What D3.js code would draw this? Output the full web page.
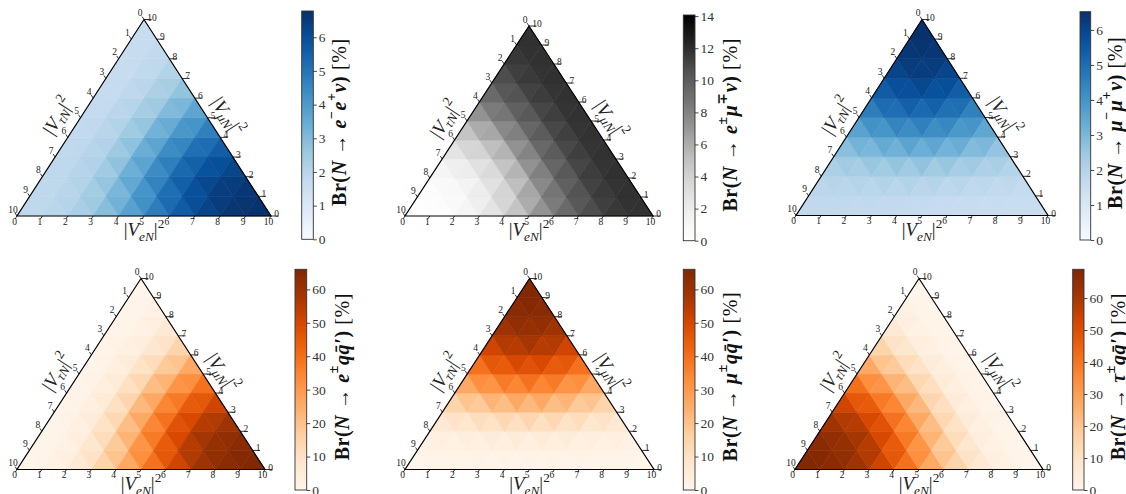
<!DOCTYPE html>
<html>
<head>
<meta charset="utf-8">
<script src="https://cdn.jsdelivr.net/npm/d3@7"></script>
<style>
  body { margin: 0; background: #fff; }
  svg { display: block; }
  text { font-family: "Liberation Serif", "DejaVu Serif", serif; }
</style>
</head>
<body>
<div id="chart"></div>
<script>
// Branching ratios [%] on the ternary lattice.
// Row index = |V_muN|^2 (0..10, bottom to top), entry index = |V_eN|^2 (0..10-row),
// |V_tauN|^2 = 10 - row - entry.
const brEENu = [
  [1.82, 1.88, 2.11, 2.59, 3.35, 4.30, 5.25, 6.01, 6.49, 6.72, 6.78],
  [1.82, 1.89, 2.18, 2.79, 3.70, 4.77, 5.70, 6.32, 6.63, 6.72],
  [1.81, 1.90, 2.25, 2.97, 4.00, 5.06, 5.86, 6.30, 6.48],
  [1.79, 1.88, 2.29, 3.08, 4.10, 5.03, 5.66, 5.98],
  [1.75, 1.85, 2.27, 3.03, 3.93, 4.69, 5.19],
  [1.71, 1.81, 2.20, 2.85, 3.58, 4.19],
  [1.67, 1.76, 2.09, 2.62, 3.19],
  [1.63, 1.71, 1.99, 2.40],
  [1.61, 1.68, 1.91],
  [1.60, 1.66],
  [1.60]
];

const brEMuNu = [
  [0, 0.15, 0.70, 1.85, 3.66, 5.95, 8.24, 10.05, 11.20, 11.75, 11.9],
  [0.15, 0.36, 1.10, 2.59, 4.82, 7.37, 9.57, 11.02, 11.72, 11.9],
  [0.70, 1.10, 2.16, 4.07, 6.61, 9.08, 10.82, 11.68, 11.9],
  [1.85, 2.59, 4.07, 6.30, 8.75, 10.65, 11.64, 11.9],
  [3.66, 4.82, 6.61, 8.75, 10.58, 11.62, 11.9],
  [5.95, 7.37, 9.08, 10.65, 11.62, 11.9],
  [8.24, 9.57, 10.82, 11.64, 11.9],
  [10.05, 11.02, 11.68, 11.9],
  [11.20, 11.72, 11.9],
  [11.75, 11.9],
  [11.9]
];

const brMuMuNu = [
  [1.70, 1.70, 1.69, 1.67, 1.64, 1.60, 1.56, 1.53, 1.51, 1.50, 1.50],
  [1.76, 1.77, 1.77, 1.77, 1.74, 1.70, 1.65, 1.61, 1.58, 1.56],
  [1.98, 2.05, 2.12, 2.16, 2.15, 2.08, 1.97, 1.88, 1.80],
  [2.45, 2.64, 2.82, 2.92, 2.88, 2.71, 2.49, 2.28],
  [3.18, 3.53, 3.82, 3.92, 3.75, 3.42, 3.05],
  [4.11, 4.56, 4.85, 4.82, 4.49, 4.01],
  [5.04, 5.47, 5.63, 5.43, 4.98],
  [5.77, 6.07, 6.06, 5.74],
  [6.24, 6.37, 6.23],
  [6.46, 6.46],
  [6.52]
];

const brEQQ = [
  [0, 0.8, 3.9, 10.2, 20.3, 33.0, 45.7, 55.8, 62.1, 65.2, 66.0],
  [0, 1.0, 4.9, 12.9, 25.1, 39.3, 51.7, 59.9, 64.0, 65.2],
  [0, 1.2, 6.0, 15.6, 29.3, 43.4, 54.0, 59.9, 62.1],
  [0, 1.4, 6.9, 17.5, 31.1, 43.4, 51.7, 55.8],
  [0, 1.6, 7.3, 17.5, 29.3, 39.3, 45.7],
  [0, 1.6, 6.9, 15.6, 25.1, 33.0],
  [0, 1.4, 6.0, 12.9, 20.3],
  [0, 1.2, 4.9, 10.2],
  [0, 1.0, 3.9],
  [0, 0.8],
  [0]
];

const brMuQQ = [
  [0, 0, 0, 0, 0, 0, 0, 0, 0, 0, 0],
  [0.8, 1.0, 1.2, 1.4, 1.6, 1.6, 1.4, 1.2, 1.0, 0.8],
  [3.9, 4.9, 6.0, 6.9, 7.3, 6.9, 6.0, 4.9, 3.9],
  [10.2, 12.9, 15.6, 17.5, 17.5, 15.6, 12.9, 10.2],
  [20.3, 25.1, 29.3, 31.1, 29.3, 25.1, 20.3],
  [33.0, 39.3, 43.4, 43.4, 39.3, 33.0],
  [45.7, 51.7, 54.0, 51.7, 45.7],
  [55.8, 59.9, 59.9, 55.8],
  [62.1, 64.0, 62.1],
  [65.2, 65.2],
  [66.0]
];

const brTauQQ = [
  [69.0, 68.2, 64.9, 58.3, 47.8, 34.5, 21.2, 10.7, 4.1, 0.8, 0],
  [68.2, 66.9, 62.6, 54.0, 41.1, 26.3, 13.5, 5.1, 1.0, 0],
  [64.9, 62.6, 56.5, 45.4, 30.7, 16.3, 6.3, 1.3, 0],
  [58.3, 54.0, 45.4, 32.5, 18.3, 7.3, 1.5, 0],
  [47.8, 41.1, 30.7, 18.3, 7.7, 1.6, 0],
  [34.5, 26.3, 16.3, 7.3, 1.6, 0],
  [21.2, 13.5, 6.3, 1.5, 0],
  [10.7, 5.1, 1.3, 0],
  [4.1, 1.0, 0],
  [0.8, 0],
  [0]
];

const AXIS_TICKS = d3.range(0, 11);
const SMALL_TICKS = d3.range(0, 7);
const EVEN_TICKS = d3.range(0, 15, 2);
const TENS_TICKS = d3.range(0, 61, 10);

const B = { bold: true };
const BI = { bold: true, it: true };
const LABEL_TAIL = [{ t: ')', ...B }, { t: ' [%]' }];
const LABEL_HEAD = [{ t: 'Br(', ...B }, { t: 'N', ...BI }, { t: ' \u2192 ', ...B }];
const qqBar = [{ t: 'q', ...BI }, { t: 'q\u0304\u2032', ...BI }];

const panels = [
  {
    values: brEENu, scheme: d3.schemeBlues[9], vmax: 6.78, ticks: SMALL_TICKS,
    box: { x0: 17, x1: 271, yB: 216, yT: 19.5 },
    bar: { x: 301.7, w: 11.6, y0: 11, y1: 239.3 }, labelDx: 26,
    label: [...LABEL_HEAD, { t: 'e', ...BI }, { t: '\u2212', pos: 'sup', ...B }, { t: 'e', ...BI },
      { t: '+', pos: 'sup', ...B }, { t: '\u03bd', ...BI }, ...LABEL_TAIL]
  },
  {
    values: brEMuNu, scheme: d3.schemeGreys[9], vmax: 14.07, ticks: EVEN_TICKS,
    box: { x0: 405, x1: 653, yB: 216, yT: 26 },
    bar: { x: 683.3, w: 11.7, y0: 15, y1: 240.7 }, labelDx: 35,
    label: [...LABEL_HEAD, { t: 'e', ...BI }, { t: '\u00b1', pos: 'sup', ...B }, { t: '\u03bc', ...BI },
      { t: '\u2213', pos: 'sup', ...B }, { t: '\u03bd', ...BI }, ...LABEL_TAIL]
  },
  {
    values: brMuMuNu, scheme: d3.schemeBlues[9], vmax: 6.52, ticks: SMALL_TICKS,
    box: { x0: 796, x1: 1048, yB: 215.5, yT: 19.5 },
    bar: { x: 1080, w: 10.7, y0: 11.7, y1: 240 }, labelDx: 24,
    label: [...LABEL_HEAD, { t: '\u03bc', ...BI }, { t: '\u2212', pos: 'sup', ...B }, { t: '\u03bc', ...BI },
      { t: '+', pos: 'sup', ...B }, { t: '\u03bd', ...BI }, ...LABEL_TAIL]
  },
  {
    values: brEQQ, scheme: d3.schemeOranges[9], vmax: 66.0, ticks: TENS_TICKS,
    box: { x0: 17, x1: 265, yB: 469.5, yT: 278.5 },
    bar: { x: 295, w: 11.7, y0: 269.3, y1: 490 }, labelDx: 35,
    label: [...LABEL_HEAD, { t: 'e', ...BI }, { t: '\u00b1', pos: 'sup', ...B }, ...qqBar, ...LABEL_TAIL]
  },
  {
    values: brMuQQ, scheme: d3.schemeOranges[9], vmax: 66.0, ticks: TENS_TICKS,
    box: { x0: 405, x1: 654, yB: 469.5, yT: 278.5 },
    bar: { x: 683.3, w: 11.7, y0: 269.3, y1: 490 }, labelDx: 35,
    label: [...LABEL_HEAD, { t: '\u03bc', ...BI }, { t: '\u00b1', pos: 'sup', ...B }, ...qqBar, ...LABEL_TAIL]
  },
  {
    values: brTauQQ, scheme: d3.schemeOranges[9], vmax: 69.0, ticks: TENS_TICKS,
    box: { x0: 795, x1: 1043, yB: 469.5, yT: 278.5 },
    bar: { x: 1072.7, w: 11.3, y0: 269.3, y1: 490 }, labelDx: 34,
    label: [...LABEL_HEAD, { t: '\u03c4', ...BI }, { t: '\u00b1', pos: 'sup', ...B }, ...qqBar, ...LABEL_TAIL]
  }
];

const titleBottom = [{ t: '|' }, { t: 'V', it: true }, { t: 'eN', it: true, pos: 'sub' }, { t: '|' }, { t: '2', pos: 'sup' }];
const titleLeft = [{ t: '|' }, { t: 'V', it: true }, { t: '\u03c4N', it: true, pos: 'sub' }, { t: '|' }, { t: '2', pos: 'sup' }];
const titleRight = [{ t: '|' }, { t: 'V', it: true }, { t: '\u03bcN', it: true, pos: 'sub' }, { t: '|' }, { t: '2', pos: 'sup' }];

const svg = d3.select('#chart').append('svg').attr('width', 1126).attr('height', 494);
svg.append('rect').attr('width', 1126).attr('height', 494).attr('fill', '#fff');
const defs = svg.append('defs');

panels.forEach(drawPanel);

function richText(sel, parts, size, spacing = 0) {
  let shift = 0;
  parts.forEach((p) => {
    const target = p.pos === 'sup' ? -0.42 * size : p.pos === 'sub' ? 0.28 * size : 0;
    sel.append('tspan')
      .attr('dy', target - shift)
      .attr('font-size', p.pos ? size * 0.7 : size)
      .attr('font-weight', p.bold ? 'bold' : 'normal')
      .attr('font-style', p.it ? 'italic' : 'normal')
      .attr('letter-spacing', spacing)
      .text(p.t);
    shift = target;
  });
}

function drawPanel(p, idx) {
  const g = svg.append('g');
  const { x0, x1, yB, yT } = p.box;
  const sx = d3.scaleLinear().domain([0, 10]).range([x0, x1]);
  const sy = d3.scaleLinear().domain([0, 10]).range([yB, yT]);
  const pt = (e, mu) => [sx(e + mu / 2), sy(mu)];
  const color = d3.scaleLinear()
    .domain(d3.range(9).map((i) => (i / 8) * p.vmax))
    .range(p.scheme)
    .clamp(true);

  // heatmap cells: each small triangle takes the mean of its three lattice values
  const cells = [];
  for (let mu = 0; mu < 10; mu++) {
    for (let e = 0; e + mu < 10; e++) {
      cells.push([[e, mu], [e + 1, mu], [e, mu + 1]]);
      if (e + mu < 9) cells.push([[e + 1, mu], [e, mu + 1], [e + 1, mu + 1]]);
    }
  }
  const cellColor = (c) => color(d3.mean(c, (v) => p.values[v[1]][v[0]]));
  g.selectAll('path.cell')
    .data(cells)
    .join('path')
    .attr('class', 'cell')
    .attr('d', (c) => 'M' + c.map((v) => pt(v[0], v[1]).join(',')).join('L') + 'Z')
    .attr('fill', cellColor)
    .attr('stroke', cellColor)
    .attr('stroke-width', 0.6)
    .attr('stroke-linejoin', 'round');

  g.append('path')
    .attr('d', 'M' + [pt(0, 0), pt(10, 0), pt(0, 10)].map((q) => q.join(',')).join('L') + 'Z')
    .attr('fill', 'none')
    .attr('stroke', '#000')
    .attr('stroke-width', 1.2)
    .attr('stroke-linejoin', 'miter');

  const tickLen = 0.15;
  const tickFont = 9.5;
  AXIS_TICKS.forEach((i) => {
    // bottom axis: |V_eN|^2
    let a = pt(i, 0);
    let b = pt(i, -tickLen);
    g.append('line').attr('x1', a[0]).attr('y1', a[1]).attr('x2', b[0]).attr('y2', b[1])
      .attr('stroke', '#000').attr('stroke-width', 0.8);
    g.append('text').attr('x', a[0] - 2.5).attr('y', a[1] + 5.5)
      .attr('text-anchor', 'middle').attr('dominant-baseline', 'central')
      .attr('font-size', tickFont).attr('fill', '#222').text(i);

    // right axis: |V_muN|^2
    a = pt(10 - i, i);
    b = pt(10 - i + tickLen * 2, i);
    g.append('line').attr('x1', a[0]).attr('y1', a[1]).attr('x2', b[0]).attr('y2', a[1])
      .attr('stroke', '#000').attr('stroke-width', 0.8);
    g.append('text').attr('x', a[0] + 3.2).attr('y', a[1] - 2)
      .attr('text-anchor', 'start').attr('dominant-baseline', 'central')
      .attr('font-size', tickFont).attr('fill', '#222').text(i);

    // left axis: |V_tauN|^2
    a = pt(0, 10 - i);
    b = pt(-tickLen, 10 - i + tickLen);
    g.append('line').attr('x1', a[0]).attr('y1', a[1]).attr('x2', b[0]).attr('y2', b[1])
      .attr('stroke', '#000').attr('stroke-width', 0.8);
    g.append('text').attr('x', a[0] - 4).attr('y', a[1] - 6.5)
      .attr('text-anchor', 'middle').attr('dominant-baseline', 'central')
      .attr('font-size', tickFont).attr('fill', '#222').text(i);
  });

  const W = x1 - x0;
  const H = yB - yT;
  const edgeAngle = (Math.atan2(H, W / 2) * 180) / Math.PI;
  const titleSize = 19;

  richText(
    g.append('text').attr('x', x0 + W / 2).attr('y', yB + 20).attr('text-anchor', 'middle').attr('fill', '#222'),
    titleBottom, titleSize
  );
  richText(
    g.append('text')
      .attr('transform', `translate(${x0 + 0.16 * W},${yB - 0.51 * H}) rotate(${-edgeAngle})`)
      .attr('text-anchor', 'middle').attr('dominant-baseline', 'central').attr('fill', '#222'),
    titleLeft, titleSize
  );
  richText(
    g.append('text')
      .attr('transform', `translate(${x0 + 0.83 * W},${yB - 0.51 * H}) rotate(${edgeAngle})`)
      .attr('text-anchor', 'middle').attr('dominant-baseline', 'central').attr('fill', '#222'),
    titleRight, titleSize
  );

  drawColorbar(g, p, color, idx);
}

function drawColorbar(g, p, color, idx) {
  const b = p.bar;
  const y = d3.scaleLinear().domain([0, p.vmax]).range([b.y1, b.y0]);
  const id = 'cbar' + idx;
  defs.append('linearGradient')
    .attr('id', id)
    .attr('x1', 0).attr('y1', 1).attr('x2', 0).attr('y2', 0)
    .selectAll('stop')
    .data(d3.range(0, 65).map((i) => i / 64))
    .join('stop')
    .attr('offset', (t) => t)
    .attr('stop-color', (t) => color(t * p.vmax));

  g.append('rect')
    .attr('x', b.x).attr('y', b.y0).attr('width', b.w).attr('height', b.y1 - b.y0)
    .attr('fill', `url(#${id})`)
    .attr('stroke', '#333')
    .attr('stroke-width', 0.9);

  const axis = g.append('g')
    .attr('transform', `translate(${b.x + b.w},0)`)
    .call(d3.axisRight(y).tickValues(p.ticks).tickSize(3.5).tickPadding(2).tickFormat(d3.format('d')));
  axis.select('.domain').remove();
  axis.selectAll('line').attr('stroke', '#333').attr('stroke-width', 0.9);
  axis.selectAll('text')
    .attr('font-size', 13.5)
    .attr('font-family', '"Liberation Serif", serif')
    .attr('fill', '#333');

  richText(
    g.append('text')
      .attr('transform', `translate(${b.x + b.w + p.labelDx},${(b.y0 + b.y1) / 2 - 3}) rotate(-90)`)
      .attr('text-anchor', 'middle').attr('dominant-baseline', 'central').attr('fill', '#111'),
    p.label, 20, 0.6
  );
}
</script>
</body>
</html>
